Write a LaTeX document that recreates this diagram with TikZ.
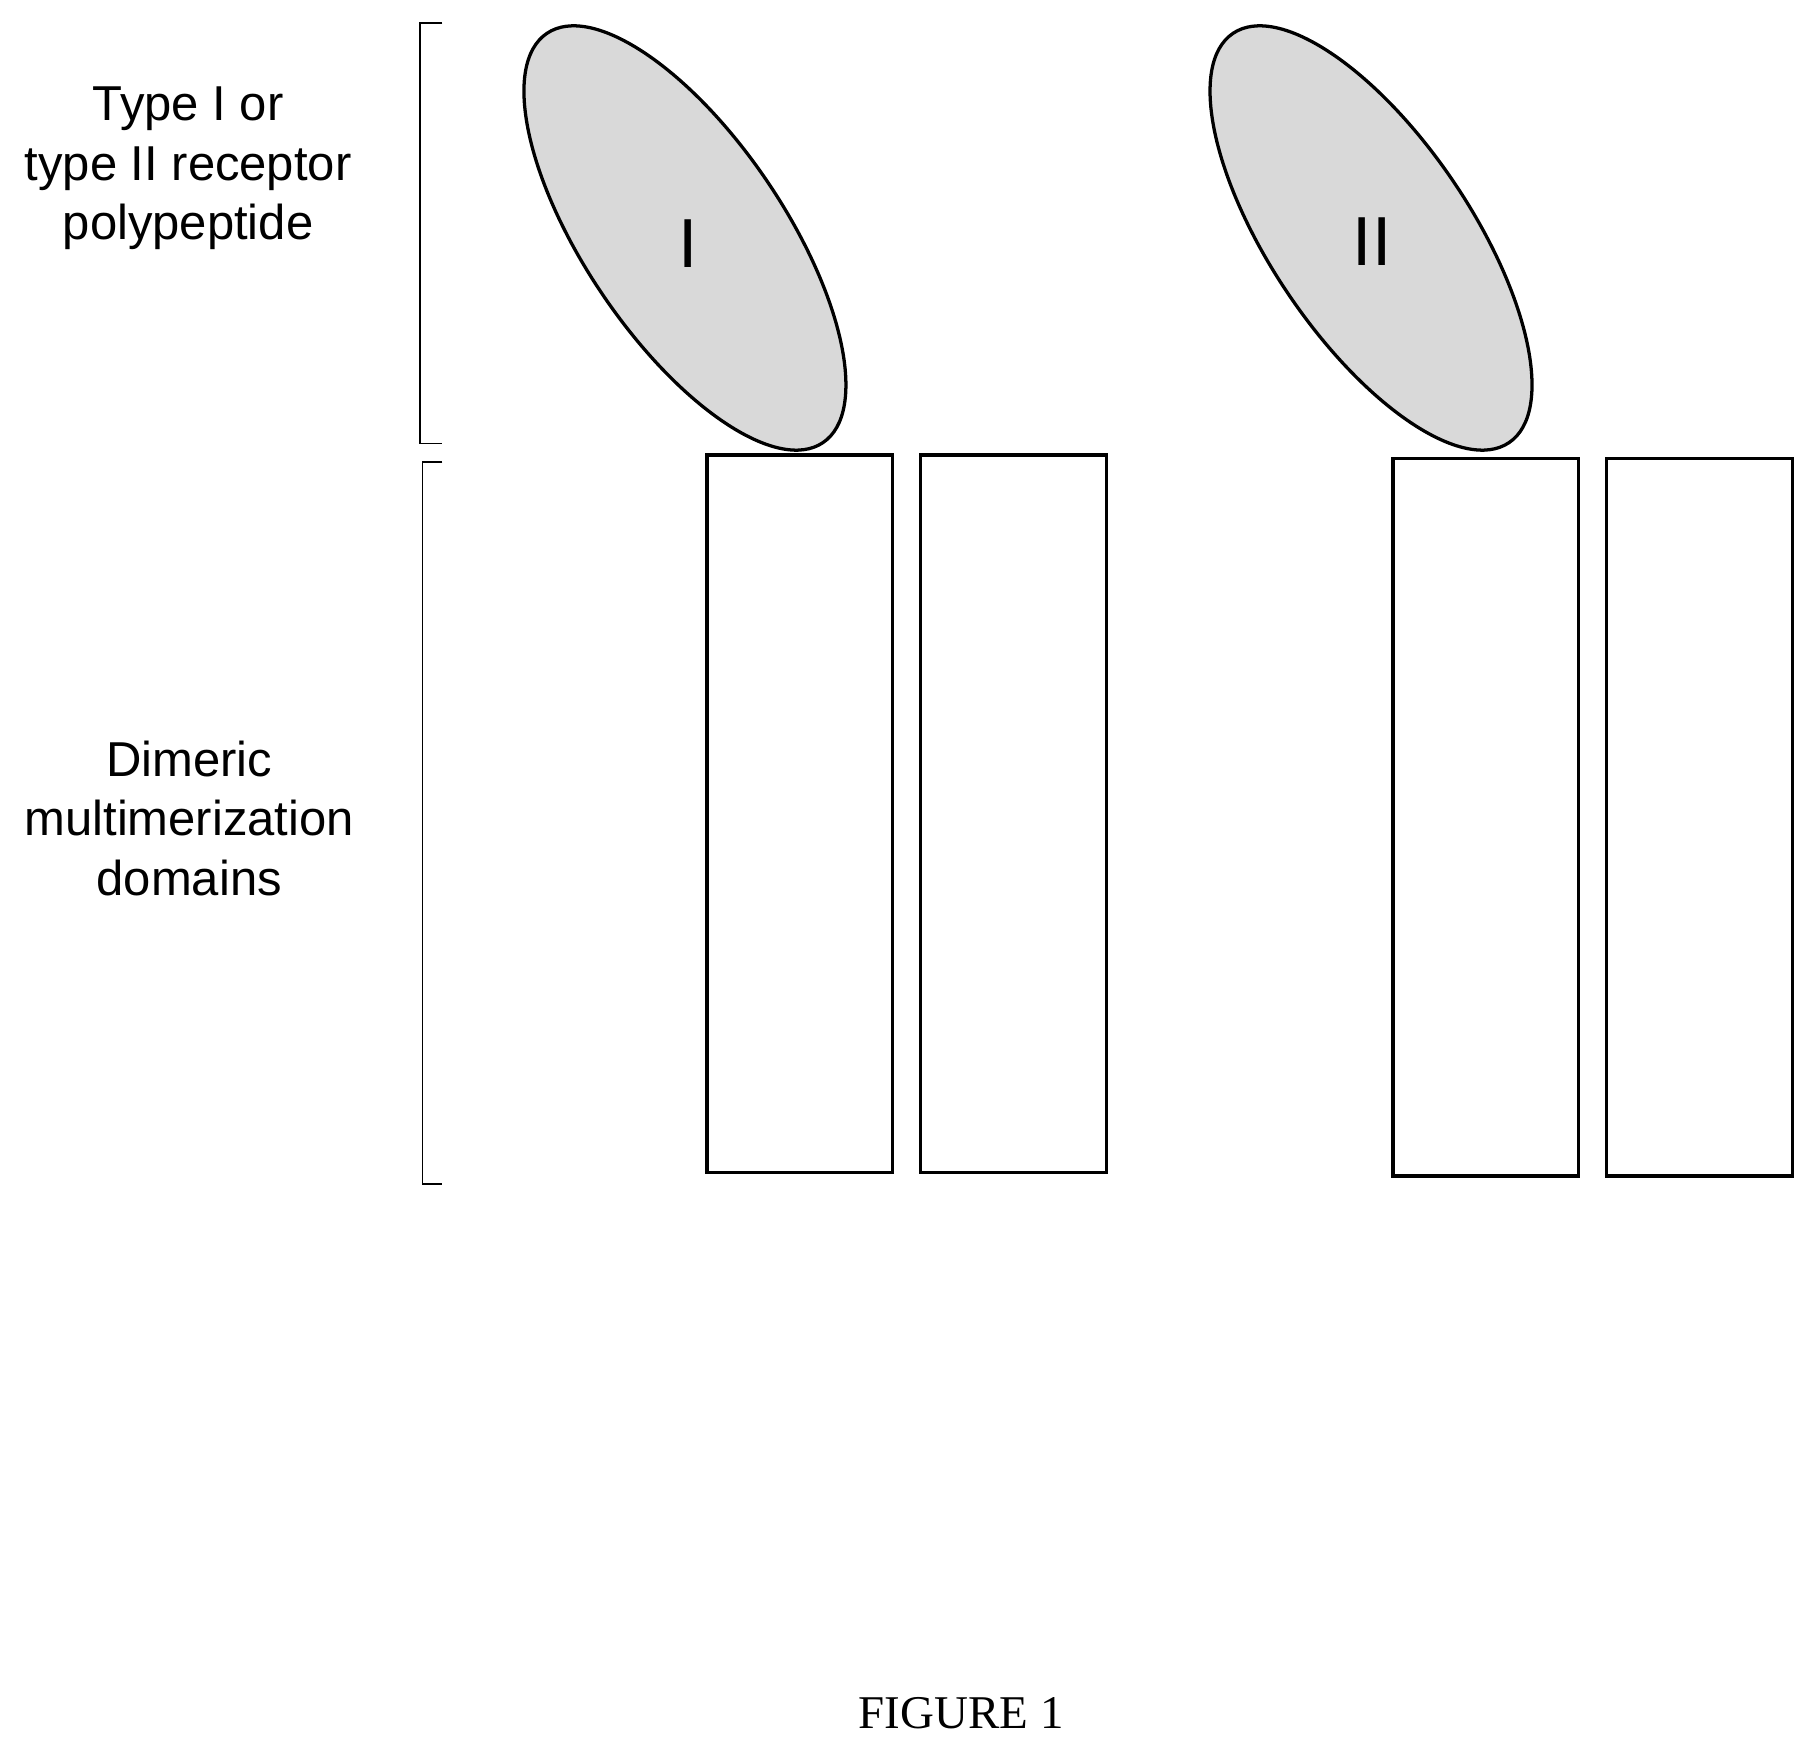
\documentclass[tikz,border=0pt]{standalone}
\usepackage{fontspec}
\setmainfont{Liberation Sans}
\newfontfamily\capfont{Liberation Serif}
\usetikzlibrary{shapes.geometric,positioning}
\tikzset{
  dimerbox/.style={draw, thick},
  receptor/.style={draw, thick, ellipse, fill=gray!30, minimum width=4.25cm, minimum height=1.72cm, inner sep=0pt},
  sidelabel/.style={align=center, font=\fontsize{12}{14.5}\selectfont},
  bracket/.style={thin}
}
\begin{document}
\begin{tikzpicture}[x=0.01cm,y=-0.01cm]
    \useasboundingbox (0,0) rectangle (1560,1503);
    % Dimeric domains
    \foreach \x/\y in {609/392,793/392,1200/395,1384/395} {
        \draw[dimerbox] (\x,\y) rectangle (\x+160,\y+618);
    }
    % Receptor polypeptides
    \node[receptor, rotate=-56] (recI) at (590,205) {};
    \node[receptor, rotate=-56] (recII) at (1181,205) {};
    \node[font=\fontsize{17}{17}\selectfont] at (593,210) {I};
    \node[font=\fontsize{17}{17}\selectfont] at (1182,208) {II};

    % Brackets
    \draw[bracket] (381,20) -- (362,20) -- (362,382) -- (381,382);
    \draw[bracket] (381,398) -- (364,398) -- (364,1020) -- (381,1020);
    \node[sidelabel] (lblrec) at (162,145) {Type I or\\type II receptor\\polypeptide};
    \node[sidelabel] (lbldom) at (163,705) {Dimeric\\multimerization\\domains};

    \node[font=\capfont\fontsize{11.5}{12}\selectfont] (fig) at (828,1476) {FIGURE 1};
\end{tikzpicture}
\end{document}
